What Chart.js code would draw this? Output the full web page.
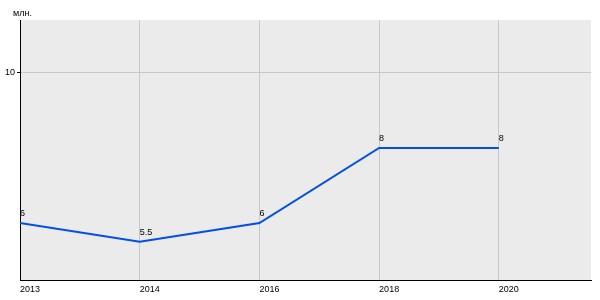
<!DOCTYPE html>
<html>
<head>
<meta charset="utf-8">
<script src="https://cdn.jsdelivr.net/npm/chart.js@4/dist/chart.umd.min.js"></script>
<style>
    html, body { margin: 0; padding: 0; background: #fff; }
    #wrap { width: 600px; height: 300px; position: relative; }
</style>
</head>
<body>
<div id="wrap"><canvas id="chart"></canvas></div>
<script>
// Chart data
const years = ['2013', '2014', '2016', '2018', '2020'];
const values = [6, 5.5, 6, 8, 8];
const valueLabels = ['6', '5.5', '6', '8', '8'];
const yTicks = [10];
const unitLabel = 'млн.';

const FONT = '"Liberation Sans", Arial, sans-serif';

// Grey plot background
const plotBackground = {
    id: 'plotBackground',
    beforeDraw(chart) {
        const { ctx, chartArea: a } = chart;
        ctx.save();
        ctx.fillStyle = '#ebebeb';
        ctx.fillRect(a.left, a.top, a.right - a.left, a.bottom - a.top);
        ctx.restore();
    }
};

// Value labels above points + unit label
const valueText = {
    id: 'valueText',
    afterDatasetsDraw(chart) {
        const ctx = chart.ctx;
        const meta = chart.getDatasetMeta(0);
        ctx.save();
        ctx.font = '9px ' + FONT;
        ctx.fillStyle = '#000';
        ctx.textAlign = 'left';
        ctx.textBaseline = 'alphabetic';
        meta.data.forEach((pt, i) => {
            ctx.fillText(valueLabels[i], pt.x, pt.y - 7);
        });
        ctx.fillText(unitLabel, 13, 16);
        ctx.restore();
    }
};

const ctx = document.getElementById('chart').getContext('2d');
new Chart(ctx, {
    type: 'line',
    data: {
        datasets: [{
            data: values.map((v, i) => ({ x: i, y: v })),
            borderColor: '#0050e6',
            borderWidth: 2,
            pointRadius: 0,
            tension: 0,
            fill: false
        }]
    },
    options: {
        responsive: true,
        maintainAspectRatio: false,
        animation: false,
        layout: { padding: { top: 20, right: 9, left: 0, bottom: 0 } },
        plugins: {
            legend: { display: false },
            tooltip: { enabled: false }
        },
        scales: {
            x: {
                type: 'linear',
                min: 0,
                max: 4.77,
                afterBuildTicks(scale) {
                    scale.ticks = years.map((y, i) => ({ value: i }));
                },
                afterFit(scale) { scale.height = 20; },
                ticks: {
                    callback: (v) => years[v],
                    align: 'start',
                    maxRotation: 0,
                    autoSkip: false,
                    padding: 4,
                    color: '#000',
                    font: { family: FONT, size: 9 }
                },
                grid: { color: '#c8c8c8', drawTicks: false },
                border: { color: '#000', width: 1 }
            },
            y: {
                min: 4.48,
                max: 11.41,
                afterBuildTicks(scale) {
                    scale.ticks = yTicks.map(v => ({ value: v }));
                },
                afterFit(scale) { scale.width = 20; },
                ticks: {
                    padding: 2,
                    color: '#000',
                    font: { family: FONT, size: 9 }
                },
                grid: { color: '#c8c8c8', tickLength: 3, tickColor: '#000' },
                border: { color: '#000', width: 1 }
            }
        }
    },
    plugins: [plotBackground, valueText]
});
</script>
</body>
</html>
